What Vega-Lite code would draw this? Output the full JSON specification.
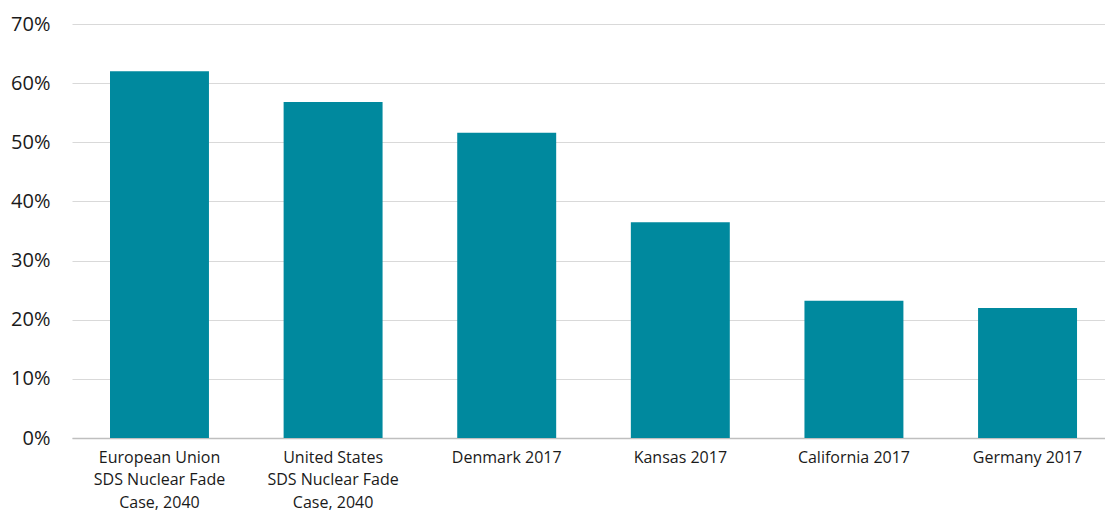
{
  "$schema": "https://vega.github.io/schema/vega-lite/v6.json",
  "autosize": {"type": "none"},
  "width": 1033,
  "height": 414,
  "padding": {"left": 72, "top": 24, "right": 0, "bottom": 75},
  "background": "white",
  "data": {"values": [
    {"region": "European Union|SDS Nuclear Fade|Case, 2040", "share": 0.620},
    {"region": "United States|SDS Nuclear Fade|Case, 2040", "share": 0.568},
    {"region": "Denmark 2017", "share": 0.516},
    {"region": "Kansas 2017", "share": 0.365},
    {"region": "California 2017", "share": 0.232},
    {"region": "Germany 2017", "share": 0.220}
  ]},
  "mark": {"type": "bar", "color": "#00899E"},
  "encoding": {
    "x": {
      "field": "region", "type": "nominal", "sort": null,
      "scale": {"paddingInner": 0.43, "paddingOuter": 0.19, "align": 0.576},
      "axis": {
        "title": null, "labelAngle": 0, "labelExpr": "split(datum.label, '|')",
        "labelFont": "Open Sans", "labelFontSize": 16, "labelColor": "#1a1a1a",
        "labelLineHeight": 22.5, "labelPadding": 11, "ticks": false,
        "domainColor": "#BFBFBF", "domainWidth": 1.5
      }
    },
    "y": {
      "field": "share", "type": "quantitative",
      "scale": {"domain": [0, 0.7]},
      "axis": {
        "title": null, "format": ".0%", "values": [0, 0.1, 0.2, 0.3, 0.4, 0.5, 0.6, 0.7],
        "labelFont": "Open Sans", "labelFontSize": 20, "labelColor": "#1a1a1a",
        "labelPadding": 22, "ticks": false, "domain": false,
        "gridColor": "#D9D9D9", "gridWidth": 1
      }
    }
  },
  "config": {"view": {"stroke": null}}
}
